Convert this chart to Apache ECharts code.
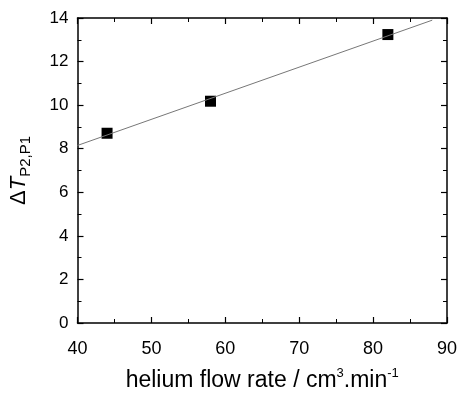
<!DOCTYPE html>
<html>
<head>
<meta charset="utf-8">
<script src="https://cdn.jsdelivr.net/npm/echarts@6/dist/echarts.min.js"></script>
<style>
  html, body { margin: 0; padding: 0; background: #fff; }
  #main { width: 460px; height: 397px; }
</style>
</head>
<body>
<div id="main"></div>
<script>
var chartDom = document.getElementById('main')
var myChart = echarts.init(chartDom)
var option

// measured points
const flowRate = [44, 58, 82]
const deltaT = [8.71, 10.18, 13.24]
// fitted line
const fitX = [40, 88]
const fitY = [8.15, 13.9]

const font = 'Liberation Sans, Arial, sans-serif'

const axisCommon = {
  axisLine: { show: true, onZero: false, lineStyle: { color: '#000', width: 1.5 } },
  axisTick: { show: true, inside: true, length: 6, lineStyle: { color: '#000', width: 1.2 } },
  minorTick: { show: true, splitNumber: 2, length: 4, lineStyle: { color: '#000', width: 1 } },
  splitLine: { show: false }
}

option = {
  animation: false,
  grid: { left: 76, right: 11, top: 18, bottom: 63 },
  xAxis: [
    {
      type: 'value',
      min: 40,
      max: 90,
      interval: 10,
      ...axisCommon,
      axisLabel: { color: '#000', fontSize: 18, fontFamily: font, margin: 17 },
      name: '{t|helium flow rate / cm}{sup|3}{t|.min}{sup|-1}',
      nameLocation: 'middle',
      nameGap: 44,
      nameTextStyle: {
        rich: {
          t: { fontSize: 23, fontFamily: font, color: '#000' },
          sup: { fontSize: 13, fontFamily: font, color: '#000', padding: [0, 0, 14, 0] }
        }
      }
    },
    {
      type: 'value',
      position: 'top',
      min: 40,
      max: 90,
      interval: 10,
      ...axisCommon,
      axisLabel: { show: false }
    }
  ],
  yAxis: [
    {
      type: 'value',
      min: 0,
      max: 14,
      interval: 2,
      ...axisCommon,
      axisLabel: { color: '#000', fontSize: 17, fontFamily: font, margin: 9 },
      name: '{d|Δ}{it|T}{sub|P2,P1}',
      nameLocation: 'middle',
      nameGap: 44,
      nameRotate: 90,
      nameTextStyle: {
        rich: {
          d: { fontSize: 22, fontFamily: font, color: '#000' },
          it: { fontSize: 22, fontFamily: font, fontStyle: 'italic', color: '#000' },
          sub: { fontSize: 15, fontFamily: font, color: '#000', padding: [14, 0, 0, 0] }
        }
      }
    },
    {
      type: 'value',
      position: 'right',
      min: 0,
      max: 14,
      interval: 2,
      ...axisCommon,
      axisLabel: { show: false }
    }
  ],
  series: [
    {
      name: 'fit',
      type: 'line',
      data: fitX.map((x, i) => [x, fitY[i]]),
      showSymbol: false,
      lineStyle: { color: '#777', width: 1 }
    },
    {
      name: 'data',
      type: 'scatter',
      data: flowRate.map((x, i) => [x, deltaT[i]]),
      symbol: 'rect',
      symbolSize: 11,
      itemStyle: { color: '#000', opacity: 1 }
    }
  ]
}

option && myChart.setOption(option)
</script>
</body>
</html>
